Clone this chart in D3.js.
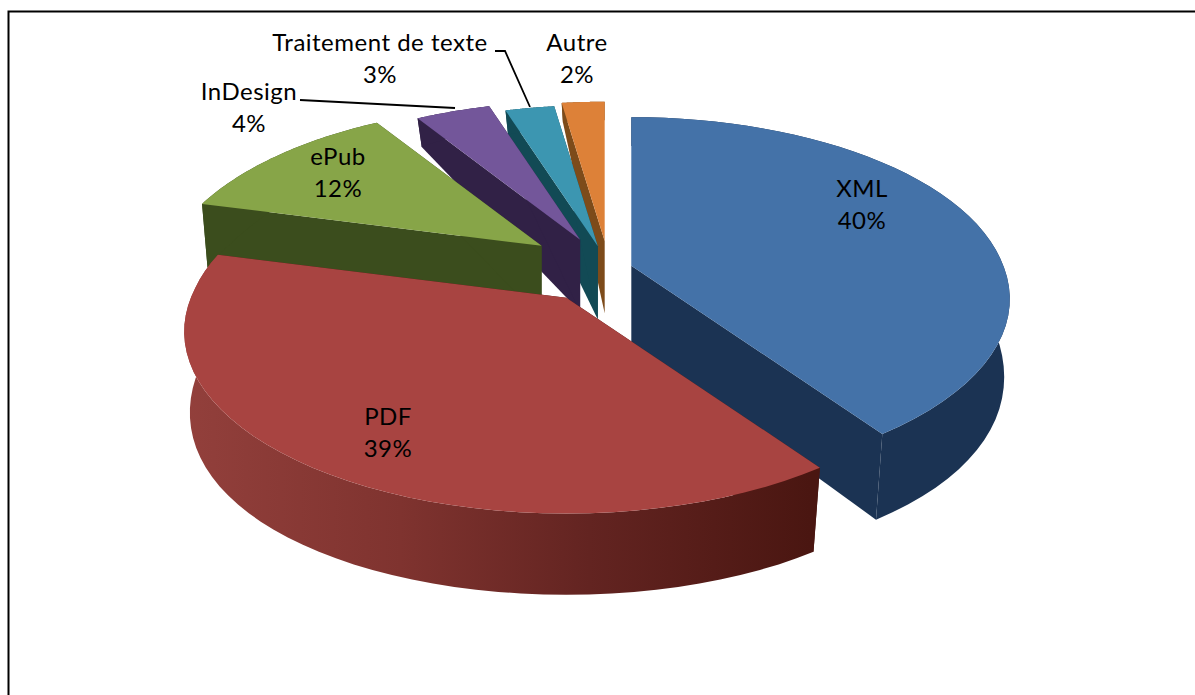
<!DOCTYPE html>
<html><head><meta charset="utf-8">
<script src="https://cdnjs.cloudflare.com/ajax/libs/d3/7.8.5/d3.min.js"></script>
<style>html,body{margin:0;padding:0;background:#fff}svg{display:block}text{font-family:Lato,"Noto Sans",sans-serif;font-size:24px;letter-spacing:.5px;fill:#000}</style>
</head><body><svg id="c" width="1195" height="695"></svg>
<script>
const categories=["XML","PDF","ePub","InDesign","Traitement de texte","Autre"];
const seriesValues=[40.3,38.8,12,4,2.6,2.3];
const percentLabels=["40%","39%","12%","4%","3%","2%"];
const explosions=[0.063,0.195,0.23,0.19,0.137,0.165];
const topColors=["#4472a8","#a84441","#87a548","#73569a","#3c96b1","#dd8138"];
const wallColors=["#1b3353","#5c2220","#3b4d1d","#312146","#124a55","#7d4b1a"];
const cutColors=["#1b3353","#4d1711","#3b4d1d","#312146","#124a55","#7d4b1a"];
const labelAnchors=[[862,188],[388,416],[338,156],[249,91],[380,42],[577,42]];
const drawOrder=[5,4,3,2,0,1];

const CX=609,CY=269,R=372,RS=174;
function proj(X,Y,wY){const w=1/(1-(wY<0?0.161:0.185)*wY);return [R*X*w,RS*Y*w];}
function warpY(Y,oy){return oy>0?Y+0.3*oy:(Y<0?Y*(1-3.3*oy):Y);}
function depth(Y){return 77.2+26.9*Y-20.2*Y*Y;}

const svg=d3.select("#c");
const line=d3.line();
svg.append("path").attr("d",line([[8.5,696],[8.5,11.5],[1196,11.5]])).attr("fill","none").attr("stroke","#000").attr("stroke-width",2);
const defs=svg.append("defs");
const g=defs.append("linearGradient").attr("id","pdfWall").attr("gradientUnits","userSpaceOnUse").attr("x1",180).attr("x2",810).attr("y1",0).attr("y2",0);
[[0,"#93403c"],[0.35,"#7f332f"],[0.65,"#632421"],[1,"#4a1611"]].forEach(s=>g.append("stop").attr("offset",s[0]).attr("stop-color",s[1]));

const arcs=d3.pie().sort(null).startAngle(0).endAngle(2*Math.PI)(seriesValues);
const layer=svg.append("g");
drawOrder.forEach(i=>{
  const a=arcs[i],mid=(a.startAngle+a.endAngle)/2,e=explosions[i];
  const ox=e*Math.sin(mid),oy=-e*Math.cos(mid);
  const ap=proj(ox,oy,oy);
  const apexT=[CX+ap[0],CY+ap[1]],apexB=[apexT[0],apexT[1]+depth(oy)];
  const rim=d3.range(0,49).map(t=>{const th=a.startAngle+(a.endAngle-a.startAngle)*t/48;return [Math.sin(th),-Math.cos(th)];});
  const rimT=rim.map(p=>{const q=proj(p[0],p[1],warpY(p[1],oy));return [apexT[0]+q[0],apexT[1]+q[1]];});
  const rimB=rim.map((p,j)=>[apexT[0]+(rimT[j][0]-apexT[0])*(1-(0.012+0.016*Math.abs(p[1]))),rimT[j][1]+depth(p[1]+oy)]);
  const cut=(k)=>[apexT,rimT[k],rimB[k],apexB];
  layer.append("path").attr("d",line(cut(0))+"Z").attr("fill",cutColors[i]);
  layer.append("path").attr("d",line(cut(48))+"Z").attr("fill",cutColors[i]);
  layer.append("path").attr("d",line(rimT.concat(rimB.slice().reverse()))+"Z").attr("fill",i===1?"url(#pdfWall)":wallColors[i]);
  layer.append("path").attr("d",line([apexT].concat(rimT))+"Z").attr("fill",topColors[i]);
});
const leaders=[[[300,100],[455,108]],[[495,51],[505,51],[530,107]]];
leaders.forEach(l=>svg.append("path").attr("d",line(l)).attr("fill","none").attr("stroke","#000").attr("stroke-width",1.8));
categories.forEach((c,i)=>{
  const t=svg.append("text").attr("text-anchor","middle");
  t.append("tspan").attr("x",labelAnchors[i][0]).attr("y",labelAnchors[i][1]+9).text(c);
  t.append("tspan").attr("x",labelAnchors[i][0]).attr("y",labelAnchors[i][1]+41).text(percentLabels[i]);
});
</script></body></html>
